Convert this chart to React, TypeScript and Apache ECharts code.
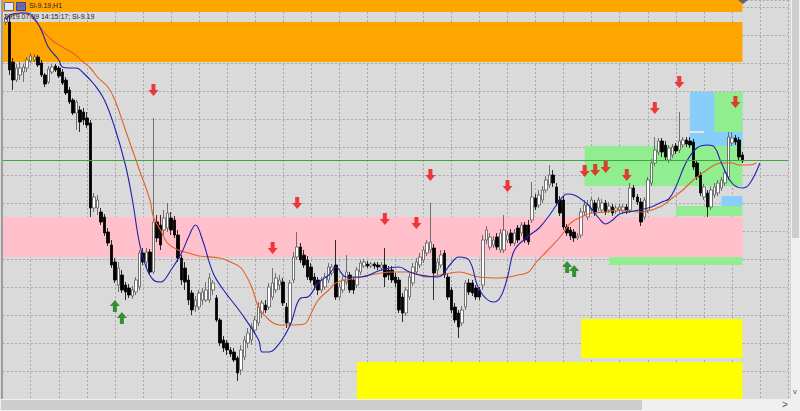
import React, { useEffect, useRef } from 'react';
import * as echarts from 'echarts';

// ---------- data ----------
const CATEGORY_COUNT = 225;
const FIRST_BAR = 1;

const opens = [63377,63377,63337,63319,63324,63327,63331,63338,63339,63342,63336,63324,63317,63327,63333,63331,63327,63319,63309,63299,63286,63289,63287,63281,63276,63191,63191,63187,63182,63167,63154,63137,63114,63124,63114,63111,63103,63107,63112,63146,63137,63147,63127,63177,63174,63169,63171,63181,63179,63164,63141,63131,63119,63106,63093,63092,63099,63099,63099,63109,63101,63079,63059,63056,63049,63047,63041,63029,63042,63056,63059,63069,63076,63086,63094,63092,63102,63109,63114,63117,63092,63076,63119,63142,63152,63144,63139,63132,63122,63119,63109,63112,63119,63126,63134,63102,63109,63117,63124,63119,63114,63127,63133,63135,63133,63135,63134,63131,63134,63129,63129,63122,63119,63102,63086,63102,63116,63127,63134,63139,63146,63149,63151,63129,63134,63146,63122,63109,63092,63086,63076,63092,63116,63116,63111,63109,63114,63159,63152,63154,63162,63149,63149,63159,63166,63156,63171,63166,63174,63174,63179,63201,63194,63199,63209,63214,63224,63212,63199,63199,63172,63169,63167,63161,63164,63187,63182,63189,63196,63191,63189,63196,63189,63192,63188,63189,63188,63192,63189,63211,63202,63197,63182,63189,63216,63236,63247,63258,63254,63239,63244,63253,63249,63254,63259,63258,63257,63236,63224,63202,63206,63192,63204,63206,63211,63216,63222,63256,63261,63259,63244];
const closes = [63381,63329,63319,63331,63331,63332,63339,63343,63342,63334,63324,63315,63330,63332,63329,63323,63316,63306,63297,63286,63297,63277,63279,63274,63191,63202,63199,63177,63166,63156,63134,63119,63131,63109,63107,63104,63109,63119,63146,63137,63147,63127,63177,63161,63154,63181,63186,63169,63164,63141,63119,63117,63099,63089,63099,63106,63107,63109,63121,63116,63079,63056,63051,63049,63045,63039,63026,63049,63059,63066,63072,63079,63092,63096,63089,63112,63116,63121,63119,63096,63076,63116,63142,63152,63139,63134,63122,63119,63114,63109,63119,63122,63132,63132,63102,63112,63119,63127,63109,63109,63129,63136,63137,63133,63135,63133,63132,63134,63122,63124,63119,63116,63089,63086,63109,63122,63132,63137,63142,63149,63156,63157,63126,63137,63144,63124,63102,63089,63079,63072,63089,63116,63107,63106,63102,63102,63159,63169,63162,63159,63152,63166,63169,63164,63156,63166,63159,63174,63159,63157,63202,63192,63204,63209,63219,63224,63216,63196,63186,63172,63166,63163,63161,63163,63187,63194,63194,63199,63186,63199,63196,63187,63193,63186,63191,63192,63192,63188,63211,63202,63197,63177,63199,63219,63236,63249,63258,63247,63242,63251,63252,63248,63258,63259,63255,63254,63232,63222,63206,63212,63192,63209,63212,63216,63219,63226,63262,63261,63257,63242,63238];
const lows = [63374,63324,63309,63317,63319,63317,63327,63336,63337,63332,63322,63312,63315,63325,63327,63321,63314,63304,63295,63284,63269,63267,63274,63271,63182,63187,63184,63174,63163,63153,63131,63116,63107,63106,63099,63101,63100,63104,63109,63134,63131,63124,63125,63157,63149,63164,63167,63164,63161,63137,63114,63109,63094,63084,63087,63089,63094,63097,63096,63104,63077,63053,63047,63044,63042,63037,63018,63024,63039,63051,63054,63066,63073,63081,63086,63089,63099,63106,63109,63093,63071,63073,63116,63139,63136,63131,63119,63116,63109,63104,63106,63109,63116,63123,63099,63099,63106,63114,63106,63105,63111,63124,63131,63131,63131,63130,63129,63128,63112,63119,63116,63112,63086,63077,63083,63099,63113,63124,63131,63136,63143,63146,63099,63124,63131,63121,63099,63086,63076,63061,63073,63089,63104,63103,63099,63099,63109,63155,63149,63151,63149,63146,63146,63156,63153,63153,63156,63163,63156,63154,63176,63189,63191,63196,63206,63211,63212,63193,63183,63169,63163,63159,63157,63159,63161,63184,63179,63186,63183,63188,63186,63184,63186,63183,63185,63186,63185,63185,63186,63199,63194,63173,63179,63186,63213,63233,63244,63242,63239,63236,63241,63245,63246,63251,63252,63251,63229,63219,63203,63199,63182,63189,63201,63203,63208,63213,63219,63253,63254,63239,63236];
const highs = [63385,63383,63341,63335,63337,63335,63342,63346,63345,63344,63339,63326,63333,63335,63335,63333,63330,63322,63312,63301,63299,63293,63291,63287,63279,63206,63204,63191,63185,63171,63159,63141,63137,63129,63117,63115,63113,63122,63149,63151,63151,63150,63281,63184,63184,63189,63196,63187,63183,63169,63144,63137,63124,63109,63103,63109,63111,63117,63126,63119,63104,63081,63063,63059,63052,63051,63043,63054,63063,63071,63076,63083,63097,63099,63099,63116,63131,63126,63124,63121,63096,63119,63147,63167,63156,63149,63143,63136,63126,63122,63122,63126,63136,63135,63159,63116,63123,63144,63127,63122,63132,63139,63140,63138,63137,63137,63137,63137,63151,63133,63133,63126,63122,63106,63112,63126,63136,63141,63146,63153,63159,63196,63155,63141,63149,63149,63126,63112,63096,63089,63093,63119,63120,63119,63114,63112,63164,63173,63166,63163,63166,63170,63184,63168,63170,63170,63174,63177,63177,63179,63217,63205,63209,63213,63223,63234,63229,63216,63203,63203,63175,63172,63170,63166,63191,63199,63199,63202,63199,63202,63200,63199,63197,63195,63194,63195,63195,63195,63216,63214,63205,63201,63202,63222,63240,63262,63261,63261,63258,63254,63255,63256,63287,63262,63262,63262,63260,63239,63227,63215,63209,63213,63216,63219,63222,63229,63267,63267,63264,63262,63247];

// moving averages, read as [bar index, price]
const blueMA = [[1,63379],[2,63384],[5,63386],[7,63386],[9,63381],[11,63369],[13,63352],[16,63339],[17,63332],[19,63331],[21,63331],[23,63326],[26,63315],[29,63299],[32,63271],[35,63234],[37,63199],[39,63156],[41,63131],[43,63119],[45,63117],[48,63129],[51,63146],[53,63162],[55,63174],[57,63159],[60,63126],[63,63109],[68,63086],[73,63059],[74,63047],[76,63047],[79,63056],[82,63074],[85,63101],[87,63102],[90,63116],[93,63124],[95,63132],[98,63122],[102,63122],[108,63129],[113,63132],[116,63127],[119,63124],[124,63122],[128,63136],[130,63142],[133,63139],[136,63109],[140,63097],[142,63102],[144,63122],[146,63149],[150,63163],[153,63171],[156,63184],[159,63199],[161,63205],[163,63204],[167,63194],[170,63181],[172,63175],[174,63179],[176,63185],[180,63188],[185,63192],[188,63197],[190,63200],[192,63212],[195,63237],[198,63251],[201,63254],[203,63252],[205,63236],[208,63216],[211,63211],[213,63215],[216,63236]];
const orangeMA = [[2,63382],[6,63386],[9,63379],[12,63366],[14,63359],[17,63352],[20,63346],[23,63337],[25,63331],[27,63322],[30,63312],[32,63299],[35,63269],[39,63229],[42,63199],[43,63182],[45,63169],[47,63156],[50,63149],[53,63146],[56,63143],[62,63141],[65,63137],[68,63131],[71,63112],[73,63092],[76,63079],[79,63074],[82,63074],[86,63075],[88,63086],[90,63099],[93,63109],[95,63116],[98,63119],[102,63122],[108,63126],[111,63127],[116,63127],[121,63122],[125,63124],[130,63127],[136,63122],[142,63121],[147,63124],[150,63127],[152,63136],[155,63147],[159,63162],[162,63176],[165,63182],[168,63186],[172,63187],[176,63189],[182,63187],[188,63193],[191,63201],[194,63209],[197,63219],[200,63227],[203,63234],[205,63236],[208,63236],[210,63234],[213,63234],[215,63236]];

// zones: start bar, end bar, top price, bottom price, kind
const zoneStart = [0, 0, 0, 166, 173, 196, 203, 205, 192, 165, 101, 196];
const zoneEnd = [211, 211, 211, 211, 211, 211, 211, 211, 211, 211, 211, 200];
const zoneTop = [63399, 63377, 63182, 63253, 63142, 63307, 63307, 63203, 63193, 63080, 63037, 63268];
const zoneBottom = [63387, 63337, 63142, 63213, 63134, 63253, 63267, 63193, 63183, 63041, 63000, 63266];
const zoneKind = ['supply', 'supply', 'pivot', 'green', 'green', 'blue', 'green', 'blue', 'green', 'demand', 'demand', 'mark'];

const sellSignals = [[43,63309],[84,63196],[77,63151],[109,63180],[118,63176],[122,63224],[144,63213],[166,63228],[169,63229],[172,63232],[178,63224],[186,63291],[193,63317],[209,63297]];
const buySignals = [[32,63093],[34,63081],[161,63132],[163,63128]];

const PRICE_LINE = 63239;
const TITLE = 'Si-9.19,H1';
const SUBTITLE = '2019.07.09 14:15:17; Si-9.19';

// ---------- styles ----------
const ZONE_COLORS: Record<string, string> = {
  supply: '#ffa500',
  pivot: '#ffc0cb',
  green: '#90ee90',
  blue: '#87cefa',
  demand: '#ffff00',
  mark: '#e6e6e6',
};

export default function App() {
  const ref = useRef<HTMLDivElement>(null);
  useEffect(() => {
    if (!ref.current) return;
    const chart = echarts.init(ref.current, undefined, { renderer: 'svg' });
    const categories = Array.from({ length: CATEGORY_COUNT }, (_, i) => String(i));
    const candles = categories.map((_, i) => {
      const k = i - FIRST_BAR;
      if (k < 0 || k >= opens.length) return '-';
      return [opens[k], closes[k], lows[k], highs[k]];
    });
    const zones = zoneStart.map((s, i) => [
      { xAxis: s, yAxis: zoneTop[i], itemStyle: { color: ZONE_COLORS[zoneKind[i]], opacity: 1 } },
      { xAxis: zoneEnd[i], yAxis: zoneBottom[i] },
    ]);
    const font = '"Liberation Sans", Arial, sans-serif';
    chart.setOption({
      animation: false,
      backgroundColor: '#dadada',
      grid: { left: 2.7, right: 12, top: 0, bottom: 12, show: false },
      xAxis: {
        type: 'category',
        data: categories,
        boundaryGap: false,
        axisLine: { show: false },
        axisTick: { show: false },
        axisLabel: { show: false },
        splitLine: {
          show: true,
          interval: (idx: number) => idx % 8 === 0,
          lineStyle: { color: '#a9a9a9', type: [2, 2], width: 1 },
        },
      },
      yAxis: {
        type: 'value',
        min: 63000,
        max: 63399,
        interval: 28,
        axisLine: { show: false },
        axisTick: { show: false },
        axisLabel: { show: false },
        splitLine: { show: true, lineStyle: { color: '#a9a9a9', type: [2, 2], width: 1 } },
      },
      series: [
        {
          type: 'line',
          data: [],
          z: 1,
          silent: true,
          markArea: { silent: true, data: zones },
          markLine: {
            silent: true,
            symbol: ['none', 'none'],
            label: { show: false },
            lineStyle: { color: '#3aa83a', type: 'solid', width: 1 },
            data: [{ yAxis: PRICE_LINE }],
          },
        },
        {
          type: 'candlestick',
          data: candles,
          z: 3,
          barWidth: 3,
          itemStyle: {
            color: '#ffffff',
            color0: '#000000',
            borderColor: '#555555',
            borderColor0: '#000000',
            borderWidth: 0.8,
          },
        },
        {
          type: 'line',
          data: orangeMA,
          z: 4,
          showSymbol: false,
          smooth: 0.4,
          lineStyle: { color: '#e2612a', width: 1.1 },
        },
        {
          type: 'line',
          data: blueMA,
          z: 4,
          showSymbol: false,
          smooth: 0.4,
          lineStyle: { color: '#2020b0', width: 1.1 },
        },
        {
          type: 'scatter',
          data: sellSignals,
          z: 5,
          symbol: 'path://M3,0L7,0L7,6L10,6L5,12L0,6L3,6Z',
          symbolSize: [10, 12],
          itemStyle: { color: '#ee1111' },
        },
        {
          type: 'scatter',
          data: buySignals,
          z: 5,
          symbol: 'path://M5,0L10,6L7,6L7,12L3,12L3,6L0,6Z',
          symbolSize: [10, 12],
          itemStyle: { color: '#0b7d0b' },
        },
      ],
      graphic: [
        { type: 'rect', left: 1, top: 0, z: 50, shape: { width: 2, height: 399 }, style: { fill: '#9c9c9c' } },
        { type: 'rect', left: 0, top: 399, z: 50, shape: { width: 800, height: 12 }, style: { fill: '#f0f0f0' } },
        { type: 'rect', left: 1, top: 400, z: 51, shape: { width: 641, height: 10 }, style: { fill: '#cdcdcd' } },
        { type: 'text', left: 782, top: 399, z: 52, style: { text: '>', fontSize: 10, fill: '#555', fontFamily: font } },
        { type: 'rect', left: 791, top: 0, z: 50, shape: { width: 9, height: 399 }, style: { fill: '#f0f0f0' } },
        { type: 'rect', left: 792, top: 0, z: 51, shape: { width: 7, height: 238 }, style: { fill: '#cdcdcd' } },
        { type: 'text', left: 793, top: 387, z: 52, style: { text: 'v', fontSize: 8, fill: '#555', fontFamily: font } },
        { type: 'polygon', z: 52, shape: { points: [[738, 0], [748, 0], [743, 4]] }, style: { fill: '#666' } },
        { type: 'rect', left: 4, top: 2, z: 52, shape: { width: 9, height: 8 }, style: { fill: '#dfe6f5', stroke: '#5566aa', lineWidth: 1 } },
        { type: 'rect', left: 16, top: 2, z: 52, shape: { width: 9, height: 8 }, style: { fill: '#5b6fc4', stroke: '#3344aa', lineWidth: 1 } },
        { type: 'polyline', z: 53, shape: { points: [[17, 8], [20, 5], [22, 7], [25, 3]] }, style: { stroke: '#e03030', lineWidth: 1, fill: 'none' } },
        { type: 'text', left: 29, top: 2, z: 52, style: { text: TITLE, fontSize: 7, fill: '#222', fontFamily: font } },
        { type: 'text', left: 4, top: 13, z: 52, style: { text: SUBTITLE, fontSize: 7, fill: '#222', fontFamily: font } },
      ],
    });
    return () => chart.dispose();
  }, []);
  return <div ref={ref} style={{ position: 'fixed', left: 0, top: 0, width: 800, height: 411 }} />;
}
